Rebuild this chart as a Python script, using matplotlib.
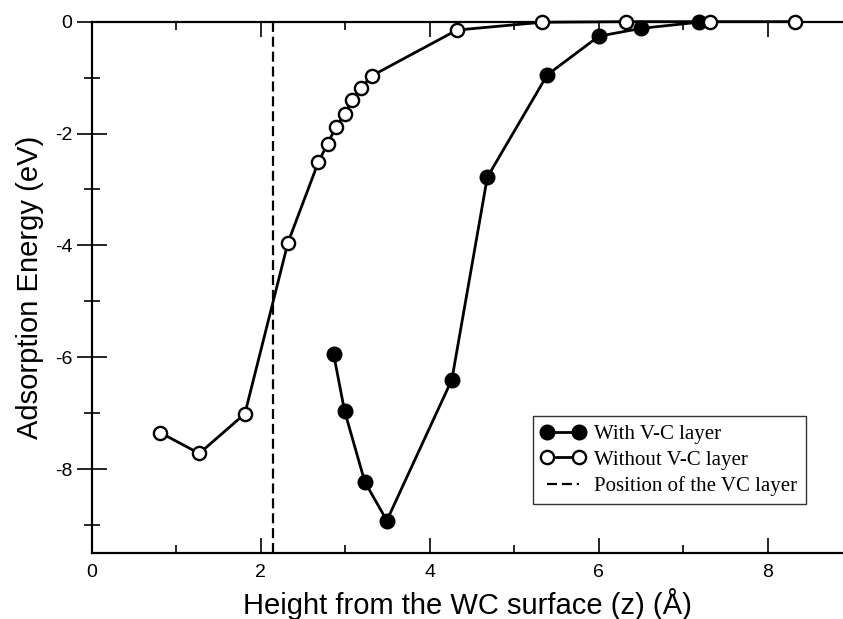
import matplotlib.pyplot as plt

# without V-C layer (open circles)
z_without = [0.81, 1.27, 1.81, 2.32, 2.68, 2.79, 2.89, 2.99, 3.08, 3.18, 3.31, 4.32, 5.33, 6.32, 7.32, 8.32]
e_without = [-7.35, -7.72, -7.01, -3.95, -2.51, -2.18, -1.88, -1.65, -1.40, -1.19, -0.97, -0.15, -0.01, 0.0, 0.0, 0.0]

# with V-C layer (filled circles)
z_with = [2.86, 2.99, 3.23, 3.49, 4.26, 4.68, 5.39, 6.00, 6.50, 7.18]
e_with = [-5.94, -6.96, -8.23, -8.92, -6.40, -2.78, -0.95, -0.26, -0.12, -0.01]

vc_position = 2.14

plt.rcParams["axes.unicode_minus"] = False
plt.rcParams["font.family"] = ["Liberation Sans", "DejaVu Sans"]

fig = plt.figure(figsize=(8.43, 6.19), dpi=100)
ax = fig.add_axes([0.1091, 0.1066, 0.8909, 0.8584])

ax.plot(z_with, e_with, "-o", color="black", lw=2.0, ms=10,
        mfc="black", mec="black", mew=1.5, label="With V-C layer",
        zorder=3, clip_on=False)
ax.plot(z_without, e_without, "-o", color="black", lw=2.0, ms=9.5,
        mfc="white", mec="black", mew=1.7, label="Without V-C layer",
        zorder=3, clip_on=False)
ax.axvline(vc_position, color="black", ls=(0, (4.5, 2.2)), lw=1.6,
           label="Position of the VC layer", zorder=2)

ax.set_xlim(0, 8.89)
ax.set_ylim(-9.5, 0)
ax.set_xticks([0, 2, 4, 6, 8])
ax.set_xticks([1, 3, 5, 7], minor=True)
ax.set_yticks([0, -2, -4, -6, -8])
ax.set_yticks([-1, -3, -5, -7, -9], minor=True)

ax.spines["right"].set_visible(False)
for s in ["left", "bottom", "top"]:
    ax.spines[s].set_linewidth(1.6)

ax.tick_params(axis="x", which="major", direction="in", length=11, width=1.2,
               top=True, labelsize=14, pad=8)
ax.tick_params(axis="x", which="minor", direction="in", length=6, width=1.2, top=True)
ax.tick_params(axis="y", which="major", direction="inout", length=22, width=1.2,
               labelsize=14, pad=3)
ax.tick_params(axis="y", which="minor", direction="inout", length=11, width=1.2)

ax.set_xlabel("Height from the WC surface (z) (Å)", fontsize=21, labelpad=5)
ax.set_ylabel("Adsorption Energy (eV)", fontsize=21, labelpad=8)

leg = ax.legend(loc="lower left", bbox_to_anchor=(0.587, 0.092),
                prop={"family": "Liberation Serif", "size": 15},
                frameon=True, fancybox=False, edgecolor="black",
                handlelength=2.1, handletextpad=0.45, borderpad=0.4,
                labelspacing=0.3, numpoints=2, borderaxespad=0)
leg.get_frame().set_linewidth(1.0)

fig.savefig("out.png", dpi=100)
